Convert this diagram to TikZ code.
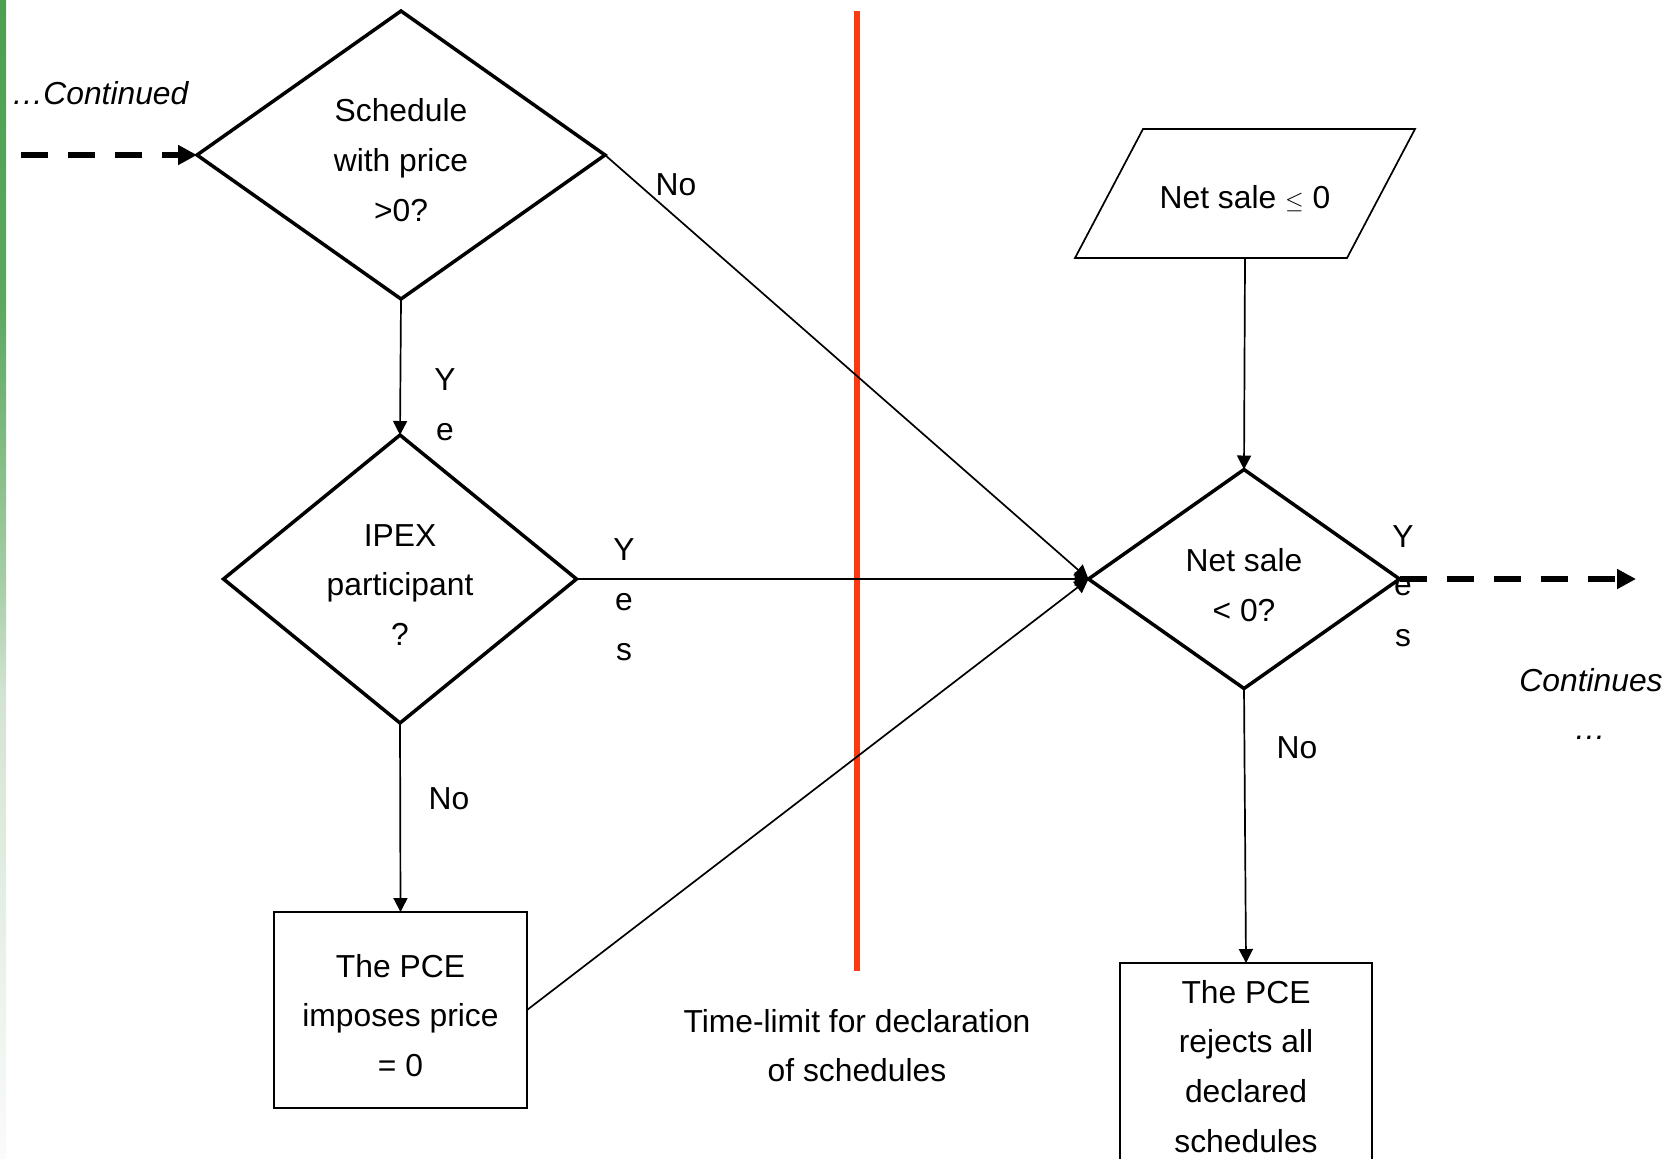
\documentclass[tikz,border=0pt]{standalone}
\usepackage{fontspec}
\setmainfont{Liberation Sans}
\usetikzlibrary{shapes.geometric,arrows.meta}

\definecolor{barGreen}{RGB}{76,160,80}
\definecolor{barGreenA}{RGB}{90,168,95}
\definecolor{barGreenB}{RGB}{165,205,165}
\definecolor{barGreenC}{RGB}{212,228,212}
\definecolor{barGreenD}{RGB}{250,251,250}
\definecolor{limitRed}{RGB}{252,58,18}

% side bar fading from green at the top to almost white at the bottom
\pgfdeclareverticalshading{sidebar}{100bp}{%
  color(0bp)=(barGreenD); color(25bp)=(barGreenD);
  color(44.8bp)=(barGreenC); color(50bp)=(barGreenB);
  color(62bp)=(barGreenA); color(75bp)=(barGreen); color(100bp)=(barGreen)}

\begin{document}
\begin{tikzpicture}[x=0.5pt, y=-0.5pt,
  every node/.style={font=\fontsize{15.9pt}{24.5pt}\selectfont, inner sep=0pt, outer sep=0pt},
  decision/.style={diamond, draw, line width=1.75pt},
  process/.style={rectangle, draw, line width=1pt},
  body/.style={align=center, font=\fontsize{15.9pt}{24.9pt}\selectfont},
  flow/.style={line width=0.85pt, -{Triangle[length=7pt,width=7pt]}},
  cont/.style={line width=3pt, dash pattern=on 13.5pt off 10pt, -{Triangle[length=9.5pt,width=9.5pt]}},
  lbl/.style={anchor=base},
  note/.style={anchor=base, font=\fontsize{15.9pt}{24.5pt}\selectfont\itshape}]

\useasboundingbox (0,0) rectangle (1673,1158);
\clip (0,0) rectangle (1673,1158);
\fill[white] (0,0) rectangle (1673,1158);
\shade[shading=sidebar] (0,0) rectangle (6,1158);

% time-limit line
\draw[limitRed, line width=3pt] (857,11) -- (857,971);
\node[align=center] (tl) at (857,1046) {Time-limit for declaration\\of schedules};

% decisions
\node[decision, minimum width=204pt, minimum height=144pt] (d1) at (401,155) {};
\node[body] (d1t) at (401,160) {Schedule\\with price\\>0?};
\node[decision, minimum width=176.5pt, minimum height=144pt] (d2) at (400,579) {};
\node[body] (d2t) at (400,585) {IPEX\\participant\\?};
\node[decision, minimum width=155.5pt, minimum height=109.5pt] (d3) at (1244,579) {};
\node[body] (d3t) at (1244,585) {Net sale\\< 0?};

% processes
\node[process, minimum width=126.5pt, minimum height=98pt] (b1) at (400.5,1010) {};
\node[body] (b1t) at (400.5,1015.5) {The PCE\\imposes price\\= 0};
\node[process, body, minimum width=126pt, minimum height=103.5pt] (b2) at (1246,1066.5) {The PCE\\rejects all\\declared\\schedules};

% input parallelogram
\node[minimum width=170pt, minimum height=64.5pt] (p) at (1245,193.5) {};
\node (pt) at (1245,199) {Net sale {\fontsize{12pt}{12pt}\selectfont$\leq$} 0};
\draw[line width=0.85pt] ([xshift=34pt]p.north west) -- (p.north east)
  -- ([xshift=-34pt]p.south east) -- (p.south west) -- cycle;

% continuation ends
\coordinate (inL) at (21,155);
\coordinate (outR) at (1636,579);

% connectors
\draw[cont] (inL) -- (d1.west);
\draw[flow] (d1.south) -- (d2.north);
\draw[flow] (d1.east) -- (d3.west);
\draw[flow] (d2.east) -- (d3.west);
\draw[flow] (b1.east) -- (d3.west);
\draw[flow] (d2.south) -- (b1.north);
\draw[flow] (p.south) -- (d3.north);
\draw[flow] (d3.south) -- (b2.north);
\draw[cont] (d3.east) -- (outR);

% branch labels
\node[lbl] (no1) at (676,195) {No};
\node[lbl] (no2) at (449,809) {No};
\node[lbl] (no3) at (1297,758) {No};
\node[lbl] (y1a) at (445,390) {Y};
\node[lbl] (y1b) at (445,440) {e};
\node[lbl] (y2a) at (624,560) {Y};
\node[lbl] (y2b) at (624,610) {e};
\node[lbl] (y2c) at (624,660) {s};
\node[lbl] (y3a) at (1403,547) {Y};
\node[lbl] (y3b) at (1403,595) {e};
\node[lbl] (y3c) at (1403,646) {s};

% continuation notes
\node[note] (cin) at (100,104) {…Continued};
\node[note] (cout) at (1591,691) {Continues};
\node[note] (cdots) at (1590,739) {…};
\end{tikzpicture}
\end{document}
